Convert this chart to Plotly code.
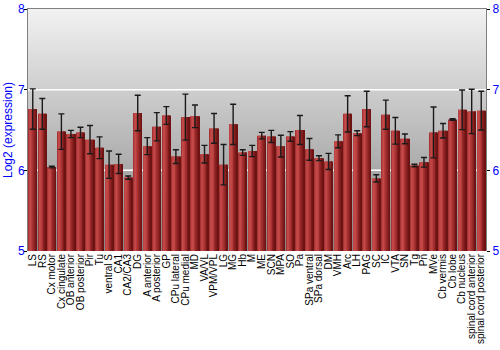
import plotly.graph_objects as go

regions = ["LS", "RS", "Cx motor", "Cx cingulate", "OB anterior", "OB posterior", "Pir", "Tu",
           "ventral S", "CA1", "CA2/CA3", "DG", "A anterior", "A posterior", "GP", "CPu lateral",
           "CPu medial", "MD", "VA/VL", "VPM/VPL", "LG", "MG", "Hb", "M", "ME", "SCN", "MPA", "SO",
           "Pa", "SPa ventral", "SPa dorsal", "DM", "VMH", "Arc", "LH", "PAG", "SC", "IC", "VTA",
           "SN", "Tg", "Pn", "MVe", "Cb vermis", "Cb lobe", "Cb nucleus", "spinal cord anterior",
           "spinal cord posterior"]

expression = [6.76, 6.70, 6.04, 6.48, 6.45, 6.47, 6.38, 6.28, 6.07, 6.08, 5.91, 6.71, 6.30, 6.54,
              6.68, 6.17, 6.66, 6.67, 6.20, 6.52, 6.07, 6.57, 6.22, 6.24, 6.43, 6.42, 6.30, 6.42,
              6.50, 6.26, 6.15, 6.11, 6.36, 6.70, 6.46, 6.76, 5.90, 6.69, 6.49, 6.39, 6.06, 6.10,
              6.47, 6.49, 6.63, 6.75, 6.73, 6.74]

error = [0.25, 0.19, 0.01, 0.22, 0.045, 0.065, 0.175, 0.135, 0.17, 0.12, 0.02, 0.22, 0.105, 0.175,
         0.11, 0.085, 0.285, 0.14, 0.11, 0.185, 0.25, 0.25, 0.035, 0.07, 0.04, 0.075, 0.135, 0.06,
         0.18, 0.135, 0.03, 0.10, 0.08, 0.225, 0.03, 0.22, 0.045, 0.18, 0.165, 0.06, 0.015, 0.06,
         0.315, 0.09, 0.01, 0.245, 0.275, 0.24]

y_ticks = [5, 6, 7, 8]
grid_levels = [6, 7]

BLUE = "#0000ff"
FONT = "Liberation Sans, Arial, sans-serif"

fig = go.Figure()

# background gradient (base subplot)
fig.add_trace(go.Scatter(
    x=[0, 1, 1, 0], y=[y_ticks[0], y_ticks[0], y_ticks[-1], y_ticks[-1]],
    fill="toself", mode="lines", line=dict(width=0),
    fillgradient=dict(type="vertical", colorscale=[[0, "#868686"], [1, "#f2f2f2"]]),
    hoverinfo="skip", showlegend=False, xaxis="x", yaxis="y"))

for g in grid_levels:
    fig.add_trace(go.Scatter(x=[0, 1], y=[g, g], mode="lines",
                             line=dict(color="#ffffff", width=1.5),
                             hoverinfo="skip", showlegend=False, xaxis="x", yaxis="y"))

# cylinder-shaded bars made of vertical strips
strip_colors = ["#a53333", "#bd4343", "#c44a4a", "#c04646", "#b53c3c", "#a83232",
                "#9a2929", "#8c2121", "#7e1a1a", "#6e1313"]
n = len(strip_colors)
bw = 0.86
for i, c in enumerate(strip_colors):
    fig.add_trace(go.Bar(
        x=regions, y=expression, width=bw / n + 0.004, offset=-bw / 2 + i * bw / n,
        marker=dict(color=c, line=dict(width=0)), showlegend=False,
        hoverinfo="skip", xaxis="x2", yaxis="y2"))

fig.add_trace(go.Scatter(
    x=regions, y=expression, mode="markers", marker=dict(size=1, opacity=0),
    error_y=dict(type="data", array=error, visible=True, color="#1a1a1a",
                 thickness=1.4, width=3),
    showlegend=False, xaxis="x2", yaxis="y2"))

axis_common = dict(range=[y_ticks[0], y_ticks[-1]], tickvals=y_ticks, ticks="outside",
                   ticklen=3, tickcolor="#000000", showgrid=False, zeroline=False,
                   showline=True, linecolor="#808080", linewidth=1,
                   tickfont=dict(color=BLUE, size=12, family=FONT))

fig.update_layout(
    width=500, height=350,
    margin=dict(l=28, r=14, t=9, b=99),
    paper_bgcolor="#ffffff", plot_bgcolor="#ffffff",
    barmode="overlay",
    font=dict(family=FONT),
    xaxis=dict(range=[0, 1], side="top", showline=True, linecolor="#808080", linewidth=1,
               showticklabels=False, showgrid=False, zeroline=False, ticks=""),
    yaxis=dict(side="left", title=dict(text="Log2 (expression)", font=dict(color=BLUE, size=12, family=FONT),
                                       standoff=2),
               ticklabelstandoff=-3, automargin=False, **axis_common),
    xaxis2=dict(overlaying="x", side="bottom", type="category", categoryorder="array",
                categoryarray=regions, range=[-0.5, len(regions) - 0.5], tickangle=-90,
                tickmode="array", tickvals=regions, ticktext=regions,
                tickfont=dict(size=10, color="#000000", family=FONT), showgrid=False,
                zeroline=False, ticks="", showline=False, automargin=False),
    yaxis2=dict(overlaying="y", side="right", automargin=False, **axis_common),
)

fig.write_html("out.html")
